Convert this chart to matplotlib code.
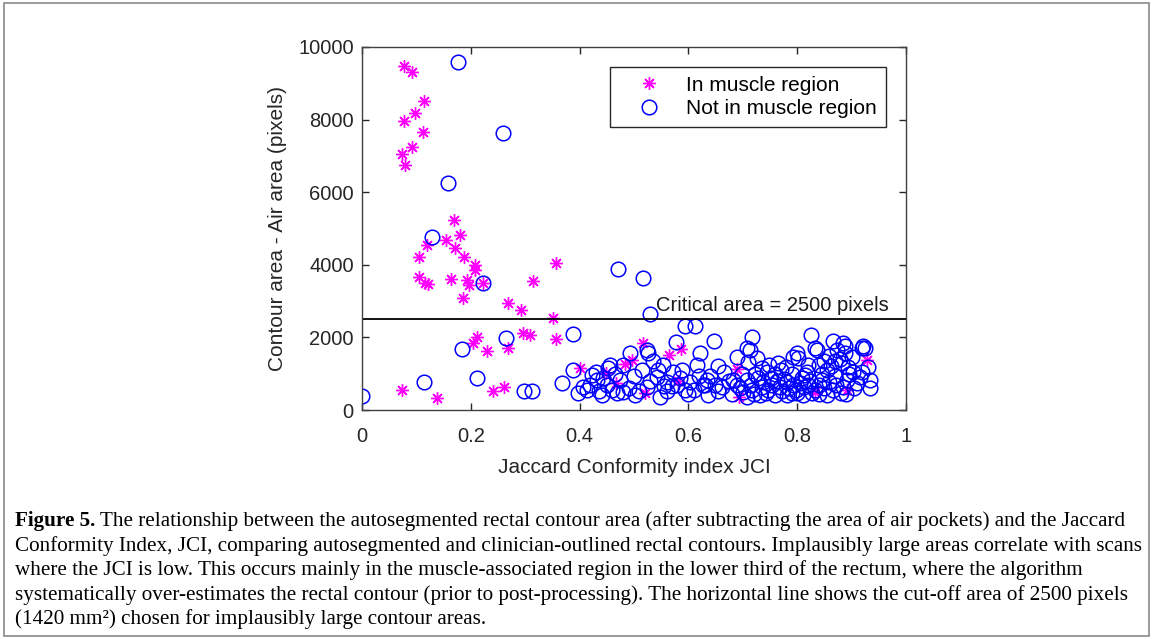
import matplotlib
matplotlib.use("Agg")
import matplotlib.pyplot as plt
from matplotlib.patches import Rectangle

# ---- data ----
muscle_x = [0.077, 0.092, 0.114, 0.097, 0.077, 0.112, 0.092, 0.073, 0.079, 0.169,
            0.180, 0.154, 0.171, 0.119, 0.188, 0.105, 0.208, 0.208, 0.105, 0.116,
            0.121, 0.164, 0.193, 0.197, 0.222, 0.186, 0.314, 0.357, 0.268, 0.292,
            0.351, 0.357, 0.309, 0.296, 0.212, 0.204, 0.229, 0.268, 0.073, 0.138,
            0.241, 0.261, 0.400, 0.449, 0.467, 0.483, 0.496, 0.517, 0.520, 0.565,
            0.586, 0.581, 0.690, 0.693, 0.833, 0.892, 0.928]
muscle_y = [9480, 9310, 8510, 8180, 7960, 7660, 7250, 7050, 6750, 5230,
            4820, 4680, 4460, 4550, 4210, 4210, 3990, 3860, 3660, 3500,
            3470, 3600, 3580, 3440, 3500, 3090, 3550, 4050, 2950, 2750,
            2530, 1950, 2060, 2120, 2000, 1840, 1620, 1710, 550, 320,
            530, 630, 1150, 1010, 740, 1260, 1380, 1840, 460, 1510,
            1680, 790, 1120, 360, 500, 550, 1380]

other_x = [0.176, 0.259, 0.158, 0.129, 0.222, 0.470, 0.517, 0.529, 0.000, 0.114,
           0.184, 0.211, 0.265, 0.298, 0.312, 0.388, 0.368, 0.594, 0.612, 0.577,
           0.647, 0.717, 0.825, 0.708, 0.833, 0.866, 0.888, 0.921, 0.621, 0.493,
           0.524, 0.526, 0.456, 0.480, 0.388, 0.423, 0.443, 0.397, 0.414, 0.441,
           0.460, 0.469, 0.480, 0.502, 0.524, 0.548, 0.542, 0.553, 0.561, 0.572,
           0.588, 0.579, 0.594, 0.603, 0.616, 0.627, 0.634, 0.452, 0.432, 0.406,
           0.640, 0.662, 0.630, 0.649, 0.636, 0.713, 0.710, 0.726, 0.765, 0.744,
           0.728, 0.707, 0.695, 0.717, 0.735, 0.754, 0.768, 0.781, 0.792, 0.809,
           0.792, 0.802, 0.818, 0.836, 0.820, 0.833, 0.846, 0.855, 0.873, 0.884,
           0.888, 0.882, 0.893, 0.903, 0.892, 0.910, 0.919, 0.925, 0.930, 0.934,
           0.934, 0.866, 0.855, 0.800, 0.781, 0.759, 0.732, 0.708, 0.689, 0.682,
           0.700, 0.715, 0.722, 0.738, 0.746, 0.752, 0.760, 0.772, 0.776, 0.785,
           0.790, 0.797, 0.805, 0.812, 0.815, 0.824, 0.828, 0.840, 0.845, 0.850,
           0.858, 0.862, 0.870, 0.872, 0.878, 0.880, 0.885, 0.895, 0.900, 0.905,
           0.915, 0.920, 0.870, 0.858, 0.735, 0.748, 0.770, 0.780, 0.762, 0.698,
           0.720, 0.742, 0.790, 0.810, 0.840, 0.890, 0.820, 0.840, 0.850, 0.800,
           0.690, 0.665, 0.655, 0.675, 0.680, 0.655,
           0.420, 0.435, 0.450, 0.475, 0.490, 0.510, 0.530, 0.560, 0.570, 0.600,
           0.610, 0.620, 0.500, 0.515, 0.535, 0.545, 0.555, 0.585, 0.465, 0.430]
other_y = [9590, 7630, 6250, 4770, 3500, 3880, 3640, 2640, 390, 770,
           1680, 880, 1980, 520, 520, 2090, 740, 2310, 2310, 1870,
           1900, 2010, 2070, 1710, 1710, 1900, 1760, 1760, 1570, 1570,
           1650, 1570, 1240, 1240, 1100, 960, 880, 470, 550, 410,
           550, 470, 500, 410, 630, 360, 910, 1240, 770, 1050,
           1100, 690, 550, 770, 1240, 690, 830, 1160, 830, 630,
           940, 630, 690, 690, 410, 1650, 1320, 1430, 1290, 1050,
           880, 830, 610, 550, 630, 690, 630, 770, 690, 880,
           1460, 1430, 1050, 1650, 690, 550, 830, 1100, 1650, 1840,
           1570, 1290, 1180, 1050, 830, 740, 1710, 1710, 1180, 830,
           610, 550, 410, 470, 410, 410, 410, 360, 690, 830,
           500, 700, 980, 760, 560, 880, 1000, 520, 850, 600,
           1000, 560, 750, 620, 960, 800, 460, 700, 980, 600,
           760, 1200, 950, 700, 1400, 480, 620, 980, 1450, 600,
           900, 1050, 1350, 1500, 1150, 1250, 1100, 1180, 790, 1000,
           450, 470, 470, 420, 440, 440, 1250, 1250, 1350, 1580,
           1450, 1050, 1200, 800, 450, 520,
           700, 520, 700, 820, 600, 530, 800, 520, 650, 430,
           550, 950, 950, 1100, 1350, 1100, 660, 880, 1000, 1050]

critical_area = 2500
xticks = [0, 0.2, 0.4, 0.6, 0.8, 1]
xticklabels = ["0", "0.2", "0.4", "0.6", "0.8", "1"]
yticks = [0, 2000, 4000, 6000, 8000, 10000]

W, H = 1153, 639
fig = plt.figure(figsize=(W / 100, H / 100), dpi=100)
fig.patch.set_facecolor("white")

# outer frame
fig.patches.append(Rectangle((4 / W, 3 / H), (W - 8) / W, (H - 6) / H,
                             transform=fig.transFigure, fill=False,
                             edgecolor="#8a8a8a", linewidth=1.2))

sans = ["Liberation Sans", "DejaVu Sans"]
ax = fig.add_axes([362 / W, 1 - 410 / H, (906 - 362) / W, (410 - 47) / H])

ax.plot(muscle_x, muscle_y, linestyle="none", marker=(8, 2, 0), markersize=9,
        markeredgewidth=1.0, color="#ff00ff", label="In muscle region")
ax.plot(other_x, other_y, linestyle="none", marker="o", markersize=10.5,
        markerfacecolor="none", markeredgewidth=1.1, color="#0000ff",
        label="Not in muscle region")

ax.axhline(critical_area, color="black", linewidth=1.3)
ax.text(0.54, critical_area + 120, "Critical area = 2500 pixels",
        ha="left", va="bottom", fontsize=14.5, family=sans, color="#1a1a1a")

ax.set_xlim(0, 1)
ax.set_ylim(0, 10000)
ax.set_xticks(xticks)
ax.set_xticklabels(xticklabels)
ax.set_yticks(yticks)
ax.tick_params(direction="in", top=True, right=True, length=5, width=1,
               labelsize=14.5, colors="#262626")
ax.tick_params(axis="x", pad=12)
ax.tick_params(axis="y", pad=6)
for lab in ax.get_xticklabels() + ax.get_yticklabels():
    lab.set_family(sans)
for s in ax.spines.values():
    s.set_color("#404040")
    s.set_linewidth(1.0)

ax.set_xlabel("Jaccard Conformity index JCI", fontsize=15, family=sans,
              color="#262626", labelpad=9)
ax.set_ylabel("Contour area - Air area (pixels)", fontsize=15, family=sans,
              color="#262626", labelpad=8)

leg = ax.legend(loc="upper right", bbox_to_anchor=(0.963, 0.945),
                borderaxespad=0, fancybox=False, framealpha=1,
                edgecolor="#262626", prop={"family": sans, "size": 15},
                handletextpad=0.3, borderpad=0.42, labelspacing=0.22,
                handlelength=2.95)
leg.get_frame().set_linewidth(1.0)

# caption
serif = ["Liberation Serif", "DejaVu Serif"]
cap_size = 15.2
lines = [
    " The relationship between the autosegmented rectal contour area (after subtracting the area of air pockets) and the Jaccard",
    "Conformity Index, JCI, comparing autosegmented and clinician-outlined rectal contours. Implausibly large areas correlate with scans",
    "where the JCI is low. This occurs mainly in the muscle-associated region in the lower third of the rectum, where the algorithm",
    "systematically over-estimates the rectal contour (prior to post-processing). The horizontal line shows the cut-off area of 2500 pixels",
    "(1420 mm\u00b2) chosen for implausibly large contour areas.",
]
x0 = 15 / W
y_base = [526, 551, 575, 600, 624]
t0 = fig.text(x0, 1 - y_base[0] / H, "Figure 5.", fontsize=cap_size, family=serif,
              fontweight="bold", va="baseline", ha="left")
fig.canvas.draw()
bb = t0.get_window_extent()
fig.text(bb.x1 / W, 1 - y_base[0] / H, lines[0], fontsize=cap_size, family=serif,
         va="baseline", ha="left")
for yb, ln in zip(y_base[1:], lines[1:]):
    fig.text(x0, 1 - yb / H, ln, fontsize=cap_size, family=serif,
             va="baseline", ha="left")

fig.savefig("out.png", dpi=100)
